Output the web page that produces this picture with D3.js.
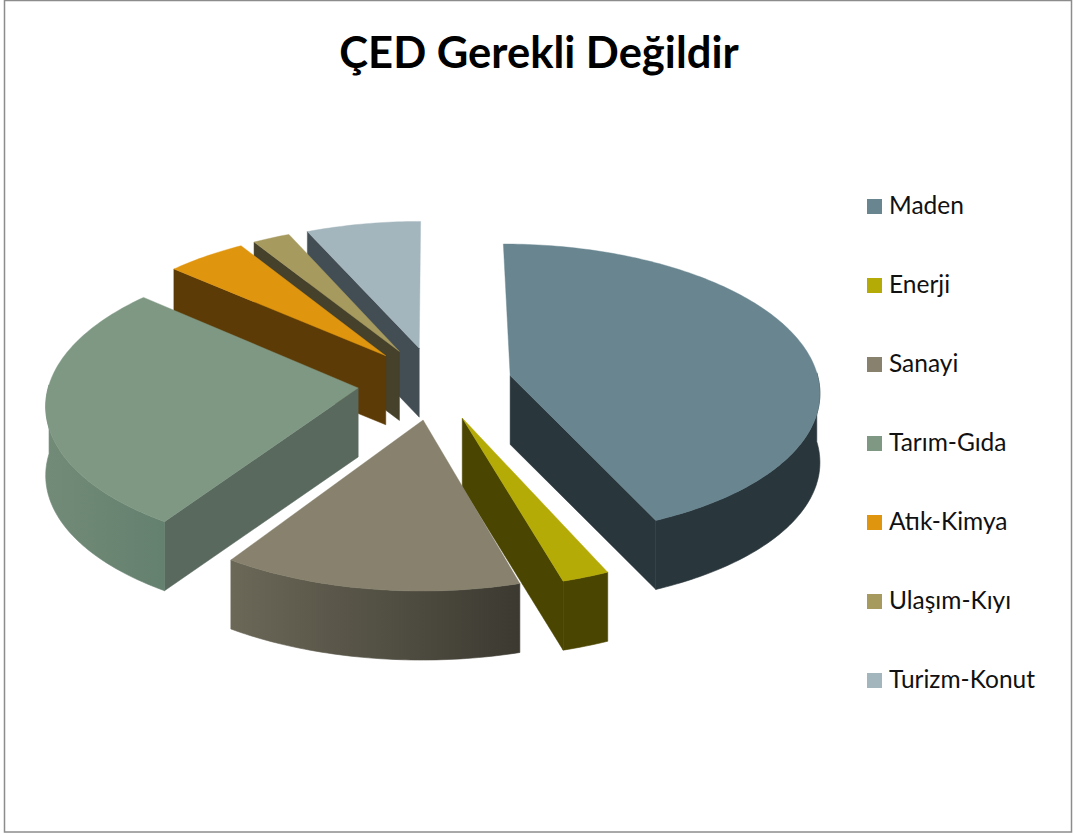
<!DOCTYPE html>
<html><head><meta charset="utf-8">
<script src="https://cdn.jsdelivr.net/npm/d3@7"></script>
<style>html,body{margin:0;padding:0;background:#fff}svg{display:block}text{font-family:Lato,"Open Sans",sans-serif}</style>
</head><body><svg id="c" width="1073" height="834"></svg>
<script>
const title = "ÇED Gerekli Değildir";
const categories = ["Maden","Enerji","Sanayi","Tarım-Gıda","Atık-Kimya","Ulaşım-Kıyı","Turizm-Konut"];
const values = [43.3,2.2,13.8,27.1,4.7,2.2,6.7];
const topColors = ["#688590","#b5ab06","#87816d","#7f9883","#e0950f","#a79a5f","#a4b6bd"];
const wallColors = ["#29363c","#4a4500","#5a5645","#59695e","#5c3b07","#46412a","#434e54"];
const outerFrom = ["#29363c","#4a4500","#6b6858","#728b78","#5c3b07","#46412a","#434e54"];
const outerTo = ["#29363c","#4a4500","#3c3931","#64806e","#5c3b07","#46412a","#434e54"];
const paintOrder = [6,5,4,3,0,1,2];

const W=1073,H=834;
const svg=d3.select("#c");
const defs=svg.append("defs");
svg.append("rect").attr("x",4.5).attr("y",0.5).attr("width",W-6).attr("height",H-2.5)
  .attr("fill","#fff").attr("stroke","#8c8c8c").attr("stroke-width",1.5);
svg.append("text").attr("x",539).attr("y",68).attr("text-anchor","middle")
  .attr("font-size",43.5).attr("font-weight",700).attr("fill","#000").text(title);

const cx=435,cy=383,rx=309,ry=146,k=0.10,explode=0.25,depth=69;
const deg=Math.PI/180;
const arcs=d3.pie().sort(null).value(d=>d).startAngle(0).endAngle(2*Math.PI)(values);
const project=(a,b,dz=0)=>{const w=1/(1-k*b);return [cx+rx*a*w,cy+ry*b*w+dz];};
const line=d3.line();

paintOrder.forEach(i=>{
  const s=arcs[i],mid=(s.startAngle+s.endAngle)/2;
  const oa=explode*Math.sin(mid),ob=-explode*Math.cos(mid);
  const pt=(t,dz=0)=>project(oa+Math.sin(t),ob-Math.cos(t),dz);
  const apex=(dz=0)=>project(oa,ob,dz);
  const g=svg.append("g");
  const n=Math.max(2,Math.ceil((s.endAngle-s.startAngle)/deg));
  const ts=d3.range(n+1).map(j=>s.startAngle+(s.endAngle-s.startAngle)*j/n);
  const wall=t=>g.append("path").attr("fill",wallColors[i]).attr("stroke",wallColors[i]).attr("stroke-width",.5)
    .attr("d",line([apex(),pt(t),pt(t,depth),apex(depth)])+"Z");
  if(Math.sin(s.startAngle)<-1e-6) wall(s.startAngle);
  if(Math.sin(s.endAngle)>1e-6) wall(s.endAngle);
  const vis=ts.filter(t=>Math.cos(t)<0.03);
  if(vis.length>1){
    const xs=vis.map(t=>pt(t)[0]);
    const id="o"+i;
    const gr=defs.append("linearGradient").attr("id",id).attr("gradientUnits","userSpaceOnUse")
      .attr("x1",d3.min(xs)).attr("x2",d3.max(xs)).attr("y1",0).attr("y2",0);
    gr.append("stop").attr("offset",0).attr("stop-color",outerFrom[i]);
    gr.append("stop").attr("offset",1).attr("stop-color",outerTo[i]);
    const poly=vis.map(t=>pt(t)).concat(vis.slice().reverse().map(t=>pt(t,depth)));
    g.append("path").attr("fill",`url(#${id})`).attr("stroke",`url(#${id})`).attr("stroke-width",.6).attr("d",line(poly)+"Z");
  }
  g.append("path").attr("fill",topColors[i]).attr("stroke",topColors[i]).attr("stroke-width",.4)
    .attr("d",line([apex()].concat(ts.map(t=>pt(t))))+"Z");
});

const ly=d3.scalePoint().domain(categories).range([206,680]);
const lg=svg.append("g").selectAll("g").data(categories).join("g");
lg.append("rect").attr("x",867).attr("y",d=>ly(d)-7).attr("width",15).attr("height",15)
  .attr("fill",(d,i)=>topColors[i]);
lg.append("text").attr("x",889).attr("y",d=>ly(d)+8).attr("font-size",24.5).attr("fill","#111").text(d=>d);
</script></body></html>
